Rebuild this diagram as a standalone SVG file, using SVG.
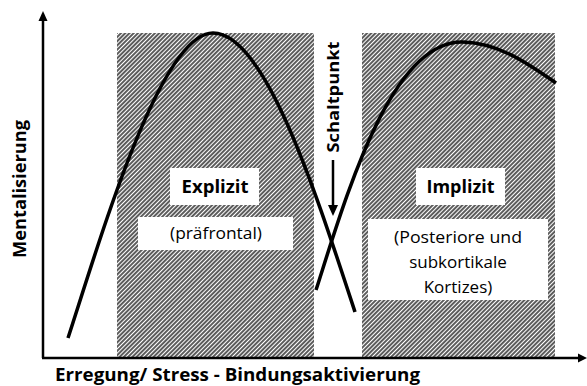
<svg xmlns="http://www.w3.org/2000/svg" width="587" height="386" viewBox="0 0 587 386">
<style>
.curve{fill:none;stroke:#000;stroke-width:3.5;stroke-linecap:butt}
.axis{stroke:#000;stroke-width:2.5;fill:none}
.lbl{font-family:"Open Sans","Liberation Sans",sans-serif;fill:#000}
.b{font-weight:bold}
.box{fill:#fff}
</style>
<defs>
<pattern id="hatch" width="3" height="3" patternUnits="userSpaceOnUse" patternTransform="rotate(45)">
<rect width="3" height="3" fill="#fff"/>
<line x1="1" y1="0" x2="1" y2="3" stroke="#333" stroke-width="1.6"/>
</pattern>
</defs>
<g id="zone-explizit">
<rect x="117" y="33" width="197" height="324" fill="url(#hatch)"/>
</g>
<g id="zone-implizit">
<rect x="362" y="33" width="193" height="324" fill="url(#hatch)"/>
</g>
<g id="axes">
<line class="axis" x1="43" y1="358" x2="43" y2="20"/>
<polygon points="38.5,21 47.5,21 43,11"/>
<line class="axis" x1="42" y1="358" x2="579" y2="358"/>
<polygon points="578,353.5 578,362.5 587,358"/>
<text class="lbl b" font-size="17" transform="translate(26,189) rotate(-90)" text-anchor="middle" textLength="138" lengthAdjust="spacingAndGlyphs">Mentalisierung</text>
<text class="lbl b" font-size="17" x="55" y="381" textLength="365" lengthAdjust="spacingAndGlyphs">Erregung/ Stress - Bindungsaktivierung</text>
</g>
<g id="connectors">
<path class="curve" d="M68,338 C100,240 160,33 213,33 C265,33 315,190 355,312"/>
<path class="curve" d="M316,290 C345,200 390,40 463,42 C500,43 530,65 556,83"/>
</g>
<g id="schaltpunkt">
<text class="lbl b" font-size="16" transform="translate(339,97) rotate(-90)" text-anchor="middle" textLength="111" lengthAdjust="spacingAndGlyphs">Schaltpunkt</text>
<line x1="333" y1="160" x2="333" y2="206" stroke="#000" stroke-width="2.5"/>
<polygon points="328,205 338,205 333,216"/>
</g>
<g id="explizit">
<rect class="box" x="170" y="168" width="89" height="37"/>
<text class="lbl b" font-size="18" x="215" y="193" text-anchor="middle" textLength="67" lengthAdjust="spacingAndGlyphs">Explizit</text>
</g>
<g id="praefrontal">
<rect class="box" x="138" y="217" width="155" height="33"/>
<text class="lbl" font-size="17" x="216" y="239" text-anchor="middle" textLength="92" lengthAdjust="spacingAndGlyphs">(präfrontal)</text>
</g>
<g id="implizit">
<rect class="box" x="416" y="168" width="89" height="37"/>
<text class="lbl b" font-size="18" x="460.5" y="193" text-anchor="middle" textLength="68" lengthAdjust="spacingAndGlyphs">Implizit</text>
</g>
<g id="posteriore">
<rect class="box" x="368" y="219" width="180" height="81"/>
<text class="lbl" font-size="17" x="458" y="243" text-anchor="middle" textLength="128" lengthAdjust="spacingAndGlyphs">(Posteriore und</text>
<text class="lbl" font-size="17" x="458" y="268" text-anchor="middle">subkortikale</text>
<text class="lbl" font-size="17" x="458" y="293" text-anchor="middle">Kortizes)</text>
</g>
</svg>
